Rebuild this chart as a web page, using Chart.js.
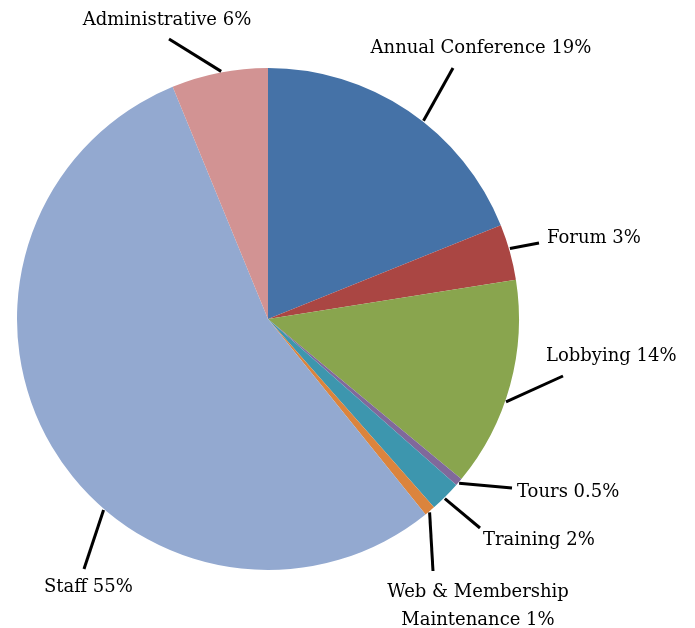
<!DOCTYPE html>
<html>
<head>
<meta charset="utf-8">
<script src="https://cdn.jsdelivr.net/npm/chart.js@4.4.0/dist/chart.umd.min.js"></script>
<style>
  html, body { margin: 0; padding: 0; background: #fff; }
  #wrap { width: 695px; height: 628px; }
</style>
</head>
<body>
<div id="wrap"><canvas id="budget" width="695" height="628"></canvas></div>
<script>
// slices, clockwise from 12 o'clock
const categories = ['Annual Conference', 'Forum', 'Lobbying', 'Tours', 'Training',
  'Web & Membership\nMaintenance', 'Staff', 'Administrative'];
const shares = [18.9, 3.6, 13.5, 0.5, 2.0, 0.7, 54.6, 6.2];
const shareLabels = ['19%', '3%', '14%', '0.5%', '2%', '1%', '55%', '6%'];
const colors = ['#4572A7', '#AA4643', '#89A54E', '#80699B', '#3D96AE', '#DB843D', '#93A9D0', '#D29393'];

// label placement: where along the slice the leader starts (0..1), leader end, text anchor
const leaderAt = [0.56, 0.44, 0.58, 0.6, 0.56, 0.6, 0.405, 0.52];
const leaderEnd = [[453, 68], [539, 243], [563, 376], [512, 488], [480, 528], [433, 571], [84, 569], [169, 39]];
const textPos = [[481, 48, 'center'], [547, 238, 'left'], [546, 356, 'left'], [517, 492, 'left'],
  [483, 540, 'left'], [478, 592, 'center'], [44, 587, 'left'], [167, 20, 'center']];

const FONT = '18px "DejaVu Serif", "Liberation Serif", serif';

const leaderLabels = {
  id: 'leaderLabels',
  afterDatasetsDraw(chart) {
    const ctx = chart.ctx;
    const arcs = chart.getDatasetMeta(0).data;
    ctx.save();
    arcs.forEach((arc, i) => {
      const p = arc.getProps(['x', 'y', 'startAngle', 'endAngle', 'outerRadius'], true);
      const a = p.startAngle + (p.endAngle - p.startAngle) * leaderAt[i];
      const sx = p.x + Math.cos(a) * (p.outerRadius + 1);
      const sy = p.y + Math.sin(a) * (p.outerRadius + 1);
      ctx.beginPath();
      ctx.moveTo(sx, sy);
      ctx.lineTo(leaderEnd[i][0], leaderEnd[i][1]);
      ctx.strokeStyle = '#000';
      ctx.lineWidth = 3;
      ctx.stroke();

      ctx.font = FONT;
      ctx.fillStyle = '#000';
      ctx.textBaseline = 'middle';
      ctx.textAlign = textPos[i][2];
      const lines = (categories[i] + ' ' + shareLabels[i]).split('\n');
      lines.forEach((ln, k) => ctx.fillText(ln, textPos[i][0], textPos[i][1] + k * 28));
    });
    ctx.restore();
  }
};

new Chart(document.getElementById('budget'), {
  type: 'pie',
  data: {
    labels: categories,
    datasets: [{
      data: shares,
      backgroundColor: colors,
      borderWidth: 0
    }]
  },
  options: {
    responsive: false,
    devicePixelRatio: 1,
    animation: false,
    layout: { padding: { left: 17, right: 176, top: 68, bottom: 58 } },
    plugins: {
      legend: { display: false },
      tooltip: { enabled: false }
    }
  },
  plugins: [leaderLabels]
});
</script>
</body>
</html>
